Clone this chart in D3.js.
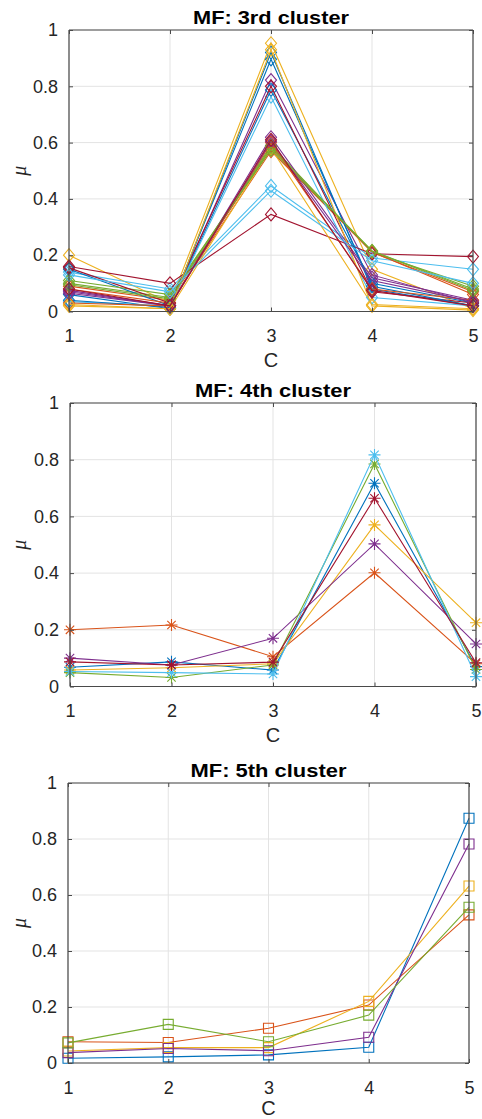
<!DOCTYPE html>
<html><head><meta charset="utf-8">
<script src="https://cdn.jsdelivr.net/npm/d3@7"></script>
<style>body{margin:0;background:#fff}svg{display:block}</style>
</head><body><svg id="c" width="482" height="1119"></svg>
<script>
// ---------- data ----------
const xCategories = [1, 2, 3, 4, 5];
const yTicks = [0, 0.2, 0.4, 0.6, 0.8, 1];
const yTickLabels = ["0", "0.2", "0.4", "0.6", "0.8", "1"];
const titles = ["MF: 3rd cluster", "MF: 4th cluster", "MF: 5th cluster"];
const xLabel = "C";
const yLabel = "\u03bc";

// MF values for the 3rd cluster (one row per sample, columns C=1..5)
const cluster3 = [
  [0.060, 0.010, 0.920, 0.080, 0.020],
  [0.090, 0.040, 0.580, 0.210, 0.070],
  [0.200, 0.030, 0.953, 0.150, 0.010],
  [0.070, 0.020, 0.822, 0.130, 0.030],
  [0.100, 0.050, 0.590, 0.210, 0.090],
  [0.140, 0.080, 0.446, 0.190, 0.150],
  [0.160, 0.100, 0.345, 0.205, 0.195],
  [0.150, 0.020, 0.787, 0.100, 0.030],
  [0.080, 0.030, 0.570, 0.212, 0.060],
  [0.020, 0.010, 0.580, 0.025, 0.010],
  [0.075, 0.020, 0.619, 0.120, 0.040],
  [0.110, 0.060, 0.575, 0.215, 0.080],
  [0.035, 0.020, 0.763, 0.050, 0.020],
  [0.155, 0.030, 0.800, 0.070, 0.030],
  [0.040, 0.015, 0.896, 0.090, 0.020],
  [0.030, 0.020, 0.600, 0.080, 0.040],
  [0.025, 0.010, 0.930, 0.020, 0.005],
  [0.065, 0.020, 0.605, 0.110, 0.035],
  [0.095, 0.045, 0.585, 0.215, 0.075],
  [0.130, 0.070, 0.429, 0.180, 0.100],
  [0.080, 0.020, 0.610, 0.075, 0.020]
];
// MF values for the 4th cluster
const cluster4 = [
  [0.068, 0.087, 0.058, 0.717, 0.070],
  [0.200, 0.217, 0.105, 0.401, 0.080],
  [0.058, 0.066, 0.080, 0.570, 0.225],
  [0.100, 0.076, 0.170, 0.503, 0.150],
  [0.049, 0.032, 0.076, 0.785, 0.060],
  [0.053, 0.049, 0.044, 0.817, 0.035],
  [0.087, 0.076, 0.086, 0.664, 0.084]
];
// MF values for the 5th cluster
const cluster5 = [
  [0.017, 0.022, 0.029, 0.056, 0.874],
  [0.076, 0.073, 0.124, 0.207, 0.529],
  [0.043, 0.055, 0.055, 0.220, 0.632],
  [0.037, 0.052, 0.044, 0.092, 0.782],
  [0.072, 0.138, 0.076, 0.171, 0.556]
];
const clusters = [cluster3, cluster4, cluster5];
const colorOrder = ["#0072BD", "#D95319", "#EDB120", "#7E2F8E", "#77AC30", "#4DBEEE", "#A2142F"];

// ---------- layout ----------
const panels = [
  {top: 30,  bottom: 311.5, left: 69, right: 473, marker: "diamond"},
  {top: 403, bottom: 686.5, left: 70, right: 476, marker: "asterisk"},
  {top: 783, bottom: 1063,  left: 68, right: 469, marker: "square"}
];
const markerPaths = {
  diamond: "M0,-6.5L5.5,0L0,6.5L-5.5,0Z",
  square: "M-5,-5H5V5H-5Z",
  asterisk: "M-6,0H6M0,-6V6M-4.2,-4.2L4.2,4.2M-4.2,4.2L4.2,-4.2"
};
const font = "'Liberation Sans', Arial, Helvetica, sans-serif";
const axisColor = "#4a4a4a";
const textColor = "#262626";
const gridColor = "#e3e3e3";

const svg = d3.select("#c");

panels.forEach((p, pi) => {
  const x = d3.scaleLinear().domain([1, 5]).range([p.left, p.right]);
  const y = d3.scaleLinear().domain([0, 1]).range([p.bottom, p.top]);
  const g = svg.append("g");

  // grid
  g.append("g").selectAll("line").data(xCategories).join("line")
    .attr("x1", d => x(d)).attr("x2", d => x(d))
    .attr("y1", p.top).attr("y2", p.bottom)
    .attr("stroke", gridColor).attr("stroke-width", 1);
  g.append("g").selectAll("line").data(yTicks).join("line")
    .attr("y1", d => y(d)).attr("y2", d => y(d))
    .attr("x1", p.left).attr("x2", p.right)
    .attr("stroke", gridColor).attr("stroke-width", 1);

  // axes with d3 axis generators (inward ticks)
  const axB = d3.axisBottom(x).tickValues(xCategories).tickSize(-4).tickPadding(18).tickFormat(d3.format("d"));
  const axT = d3.axisTop(x).tickValues(xCategories).tickSize(-4).tickFormat("");
  const axL = d3.axisLeft(y).tickValues(yTicks).tickSize(-4).tickPadding(11).tickFormat((d, i) => yTickLabels[i]);
  const axR = d3.axisRight(y).tickValues(yTicks).tickSize(-4).tickFormat("");

  const style = sel => {
    sel.selectAll("path.domain").attr("stroke", axisColor).attr("stroke-width", 1.2);
    sel.selectAll(".tick line").attr("stroke", axisColor).attr("stroke-width", 1);
    sel.selectAll(".tick text").attr("fill", textColor).attr("font-family", font).attr("font-size", 18);
  };

  // data lines
  const line = d3.line().x((d, i) => x(xCategories[i])).y(d => y(d));
  clusters[pi].forEach((row, si) => {
    const c = colorOrder[si % colorOrder.length];
    const sg = g.append("g");
    sg.append("path").attr("d", line(row)).attr("fill", "none")
      .attr("stroke", c).attr("stroke-width", 1.1);
    sg.selectAll("path.m").data(row).join("path").attr("class", "m")
      .attr("transform", (d, i) => `translate(${x(xCategories[i])},${y(d)})`)
      .attr("d", markerPaths[p.marker])
      .attr("fill", "none").attr("stroke", c).attr("stroke-width", 1.1);
  });

  g.append("g").attr("transform", `translate(0,${p.bottom})`).call(axB).call(style)
    .call(s => s.select(".domain").attr("d", `M${p.left},0H${p.right}`));
  g.append("g").attr("transform", `translate(0,${p.top})`).call(axT).call(style)
    .call(s => s.select(".domain").attr("d", `M${p.left},0H${p.right}`));
  g.append("g").attr("transform", `translate(${p.left},0)`).call(axL).call(style)
    .call(s => s.select(".domain").attr("d", `M0,${p.top}V${p.bottom}`));
  g.append("g").attr("transform", `translate(${p.right},0)`).call(axR).call(style)
    .call(s => s.select(".domain").attr("d", `M0,${p.top}V${p.bottom}`));

  // title
  g.append("text").attr("x", (p.left + p.right) / 2).attr("y", p.top - 6)
    .attr("text-anchor", "middle").attr("font-family", font).attr("font-weight", "bold")
    .attr("font-size", 18).attr("fill", "#000")
    .attr("textLength", 156).attr("lengthAdjust", "spacingAndGlyphs")
    .text(titles[pi]);
  // x label
  g.append("text").attr("x", (p.left + p.right) / 2).attr("y", Math.min(p.bottom + 55, 1115))
    .attr("text-anchor", "middle").attr("font-family", font)
    .attr("font-size", 20).attr("fill", textColor).text(xLabel);
  // y label
  const cy = (p.top + p.bottom) / 2;
  g.append("text").attr("transform", `translate(26,${cy}) rotate(-90)`)
    .attr("text-anchor", "middle").attr("font-family", "'Liberation Serif', 'DejaVu Serif', serif")
    .attr("font-style", "italic").attr("font-size", 20).attr("fill", textColor).text(yLabel);
});
</script></body></html>
